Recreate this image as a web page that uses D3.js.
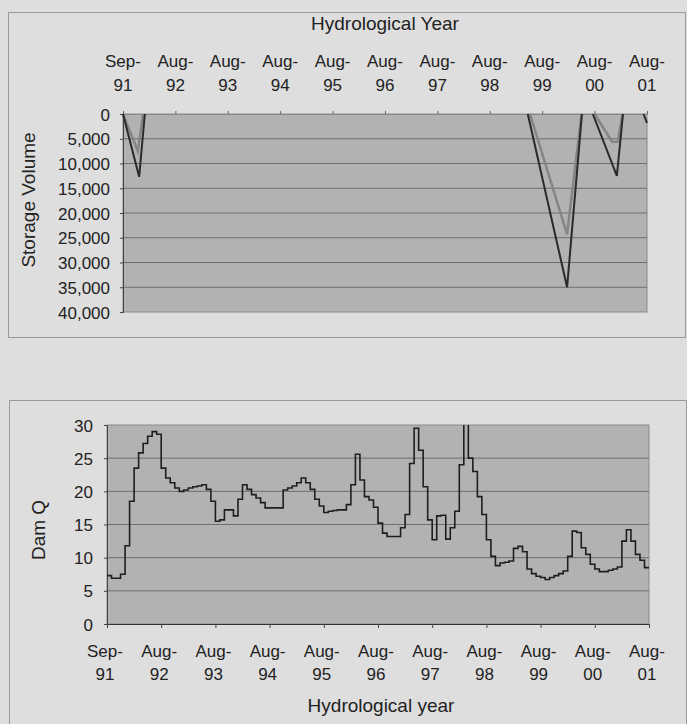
<!DOCTYPE html>
<html>
<head>
<meta charset="utf-8">
<script src="https://cdn.jsdelivr.net/npm/d3@7/dist/d3.min.js"></script>
<style>
  html, body { margin: 0; padding: 0; background: #dedede; }
  svg { display: block; }
  text { font-family: "Liberation Sans", Arial, sans-serif; fill: #222; }
</style>
</head>
<body>
<svg id="chart" width="687" height="724"></svg>
<script>
// ---------- DATA ----------
const tickLabels = ["Sep-91","Aug-92","Aug-93","Aug-94","Aug-95","Aug-96","Aug-97","Aug-98","Aug-99","Aug-00","Aug-01"];
const monthsPerLabel = 12;

// Storage volume (top chart): segments of [monthIndex, volume]
const storageDark = [
  [[0,0],[3.7,12700],[5.0,0]],
  [[92.7,0],[101.7,35000],[105.1,0]],
  [[107.6,0],[113.1,12500],[114.5,0]],
  [[119.2,0],[120,1800]]
];
const storageGray = [
  [[0,0],[3.4,7500],[4.6,0]],
  [[93.2,0],[101.7,24300],[105.0,0]],
  [[108.0,0],[112.0,5600],[113.3,5600],[114.4,0]]
];
const storageTicks = [0,5000,10000,15000,20000,25000,30000,35000,40000];

// Dam Q (bottom chart): monthly values Sep-91 .. Aug-01
const damQ = [
  7.3, 6.9, 6.9, 7.5, 11.8, 18.5, 23.5, 25.8, 27.2, 28.3, 29.0, 28.6,
  23.5, 22.0, 21.3, 20.5, 20.0, 20.2, 20.5, 20.7, 20.8, 21.0, 20.3, 18.5,
  15.5, 15.7, 17.2, 17.2, 16.3, 18.8, 21.0, 20.3, 19.5, 19.0, 18.3, 17.5,
  17.5, 17.5, 17.5, 20.2, 20.5, 20.8, 21.3, 22.0, 21.3, 20.3, 18.8, 17.8,
  16.8, 17.0, 17.1, 17.2, 17.2, 18.0, 21.0, 25.6, 21.7, 19.2, 18.7, 17.6,
  15.2, 13.7, 13.2, 13.2, 13.2, 14.5, 16.5, 24.2, 29.5, 26.2, 20.7, 15.7,
  12.7, 16.3, 16.4, 12.8, 14.5, 17.0, 24.0, 34.0, 25.0, 23.0, 19.2, 16.5,
  12.7, 10.2, 8.8, 9.2, 9.3, 9.5, 11.4, 11.7, 10.9, 8.3, 7.6, 7.2,
  7.0, 6.7, 7.0, 7.3, 7.6, 8.0, 10.2, 14.0, 13.8, 11.5, 10.5, 9.0,
  8.3, 7.9, 7.9, 8.1, 8.3, 8.6, 12.5, 14.2, 12.5, 10.5, 9.6, 8.5
];
const damTicks = [0,5,10,15,20,25,30];

// ---------- DRAW ----------
const svg = d3.select("#chart");
const nMonths = (tickLabels.length - 1) * monthsPerLabel;
const fmt = d3.format(",");

// Panel frames
svg.append("rect").attr("x",8.5).attr("y",12.5).attr("width",677).attr("height",325)
  .attr("fill","none").attr("stroke","#9a9a9a");
svg.append("rect").attr("x",9.5).attr("y",400.5).attr("width",677).attr("height",330)
  .attr("fill","none").attr("stroke","#9a9a9a");

// ===== TOP CHART =====
{
  const x = d3.scaleLinear().domain([0,nMonths]).range([123,647]);
  const y = d3.scaleLinear().domain([0,40000]).range([114,312]);
  const g = svg.append("g");
  g.append("rect").attr("x",x(0)).attr("y",y(0)).attr("width",x(nMonths)-x(0)).attr("height",y(40000)-y(0))
    .attr("fill","#b2b2b2").attr("stroke","#8a8a8a");
  g.selectAll("line.grid").data(storageTicks.slice(1,-1)).join("line")
    .attr("x1",x(0)).attr("x2",x(nMonths)).attr("y1",d=>y(d)).attr("y2",d=>y(d))
    .attr("stroke","#6e6e6e").attr("stroke-width",1);

  const yAxis = d3.axisLeft(y).tickValues(storageTicks).tickFormat(fmt).tickSize(3);
  const ya = g.append("g").attr("transform",`translate(${x(0)},0)`).call(yAxis);
  ya.select(".domain").attr("stroke","#444");
  ya.selectAll(".tick line").attr("stroke","#444");
  ya.selectAll("text").attr("font-size",17).attr("x",-13).attr("dy","0.36em").attr("fill","#222");

  const xAxis = d3.axisTop(x).tickValues(d3.range(0,nMonths+1,monthsPerLabel)).tickSize(3).tickFormat("");
  const xa = g.append("g").attr("transform",`translate(0,${y(0)})`).call(xAxis);
  xa.select(".domain").attr("stroke","#8a8a8a");
  xa.selectAll(".tick line").attr("stroke","#666");
  tickLabels.forEach((lab,i)=>{
    const parts = lab.split("-");
    const t = g.append("text").attr("text-anchor","middle").attr("font-size",17);
    t.append("tspan").attr("x",x(i*monthsPerLabel)).attr("y",67).text(parts[0]+"-");
    t.append("tspan").attr("x",x(i*monthsPerLabel)).attr("y",91).text(parts[1]);
  });

  g.append("text").attr("x",385).attr("y",30).attr("text-anchor","middle").attr("font-size",19).text("Hydrological Year");
  g.append("text").attr("transform","translate(35,200) rotate(-90)").attr("text-anchor","middle").attr("font-size",19).text("Storage Volume");

  const line = d3.line().x(d=>x(d[0])).y(d=>y(d[1]));
  g.selectAll("path.gray").data(storageGray).join("path").attr("d",line)
    .attr("fill","none").attr("stroke","#858585").attr("stroke-width",2.5);
  g.selectAll("path.dark").data(storageDark).join("path").attr("d",line)
    .attr("fill","none").attr("stroke","#2a2a2a").attr("stroke-width",2);
}

// ===== BOTTOM CHART =====
{
  const x = d3.scaleLinear().domain([0,nMonths]).range([107,649]);
  const y = d3.scaleLinear().domain([0,30]).range([624,425]);
  const g = svg.append("g");
  g.append("defs").append("clipPath").attr("id","clipB").append("rect")
    .attr("x",x(0)).attr("y",y(30)).attr("width",x(nMonths)-x(0)).attr("height",y(0)-y(30));
  g.append("rect").attr("x",x(0)).attr("y",y(30)).attr("width",x(nMonths)-x(0)).attr("height",y(0)-y(30))
    .attr("fill","#b2b2b2").attr("stroke","#8a8a8a");
  g.selectAll("line.grid").data(damTicks.slice(1,-1)).join("line")
    .attr("x1",x(0)).attr("x2",x(nMonths)).attr("y1",d=>y(d)).attr("y2",d=>y(d))
    .attr("stroke","#6e6e6e").attr("stroke-width",1);

  const yAxis = d3.axisLeft(y).tickValues(damTicks).tickSize(3);
  const ya = g.append("g").attr("transform",`translate(${x(0)},0)`).call(yAxis);
  ya.select(".domain").attr("stroke","#444");
  ya.selectAll(".tick line").attr("stroke","#444");
  ya.selectAll("text").attr("font-size",17).attr("x",-14).attr("dy","0.36em").attr("fill","#222");

  const xAxis = d3.axisBottom(x).tickValues(d3.range(0,nMonths+1,monthsPerLabel)).tickSize(4).tickFormat("");
  const xa = g.append("g").attr("transform",`translate(0,${y(0)})`).call(xAxis);
  xa.select(".domain").attr("stroke","#333");
  xa.selectAll(".tick line").attr("stroke","#444");
  tickLabels.forEach((lab,i)=>{
    const parts = lab.split("-");
    const t = g.append("text").attr("text-anchor","middle").attr("font-size",17);
    t.append("tspan").attr("x",x(i*monthsPerLabel)-2).attr("y",657).text(parts[0]+"-");
    t.append("tspan").attr("x",x(i*monthsPerLabel)-2).attr("y",680).text(parts[1]);
  });

  g.append("text").attr("x",381).attr("y",712).attr("text-anchor","middle").attr("font-size",19).text("Hydrological year");
  g.append("text").attr("transform","translate(45,530) rotate(-90)").attr("text-anchor","middle").attr("font-size",19).text("Dam Q");

  const pts = damQ.map((v,i)=>[i,v]).concat([[damQ.length, damQ[damQ.length-1]]]);
  const line = d3.line().x(d=>x(d[0])).y(d=>y(d[1])).curve(d3.curveStepAfter);
  g.append("path").datum(pts).attr("d",line).attr("clip-path","url(#clipB)")
    .attr("fill","none").attr("stroke","#1e1e1e").attr("stroke-width",1.6);
}
</script>
</body>
</html>
